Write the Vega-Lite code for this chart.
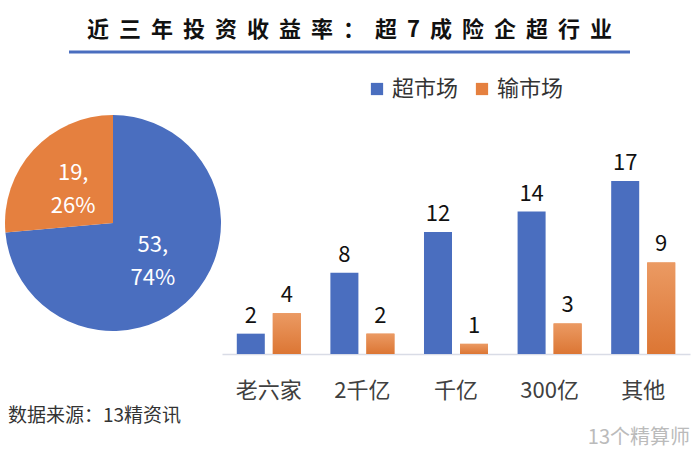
{
  "$schema": "https://vega.github.io/schema/vega-lite/v6.json",
  "padding": {"left": 5, "top": 18, "right": 5, "bottom": 5},
  "background": "white",
  "vconcat": [
    {
      "hconcat": [
        {
          "width": 56,
          "height": 1,
          "data": {"values": []},
          "mark": "point"
        },
        {
          "width": 561,
          "height": 1,
          "title": {
            "text": "近 \u00a0三 \u00a0年 \u00a0投 \u00a0资 \u00a0收 \u00a0益 \u00a0率 \u00a0： \u00a0超 \u00a07 \u00a0成 \u00a0险 \u00a0企 \u00a0超 \u00a0行 \u00a0业",
            "fontSize": 22,
            "fontWeight": "bold",
            "color": "#111111",
            "offset": 9
          },
          "data": {"values": [{"基线": 0}]},
          "mark": {"type": "rule", "color": "#4A6EBF", "strokeWidth": 3},
          "encoding": {"y": {"field": "基线", "type": "quantitative", "scale": {"domain": [0, 1]}, "axis": null}}
        }
      ],
      "spacing": 6
    },
    {
      "hconcat": [
        {
          "width": 216,
          "height": 216,
          "title": {
            "text": "数据来源：13精资讯",
            "orient": "bottom",
            "anchor": "start",
            "offset": 76,
            "dx": 3,
            "fontSize": 19,
            "fontWeight": "normal",
            "color": "#333333"
          },
          "data": {
            "values": [
              {"类别": "超市场", "数量": 53, "标签": "53,\n74%"},
              {"类别": "输市场", "数量": 19, "标签": "19,\n26%"}
            ]
          },
          "encoding": {
            "theta": {"field": "数量", "type": "quantitative", "stack": true},
            "order": {"field": "类别", "sort": "ascending"},
            "color": {
              "field": "类别",
              "type": "nominal",
              "scale": {"domain": ["超市场", "输市场"], "range": ["#4A6EBF", "#E5803F"]},
              "legend": null
            }
          },
          "layer": [
            {"mark": {"type": "arc", "outerRadius": 108}},
            {
              "mark": {"type": "text", "radius": 54, "dy": -14, "fontSize": 22, "color": "white", "lineBreak": "\n", "lineHeight": 33},
              "encoding": {"text": {"field": "标签"}, "color": {"value": "white"}}
            }
          ]
        },
        {
          "width": 468,
          "height": 239,
          "title": {
            "text": "13个精算师",
            "orient": "bottom",
            "anchor": "end",
            "offset": 27,
            "fontSize": 20,
            "fontWeight": "normal",
            "color": "#BBBBBB"
          },
          "data": {
            "values": [
              {"类别": "老六家", "市场": "超市场", "数量": 2},
              {"类别": "老六家", "市场": "输市场", "数量": 4},
              {"类别": "2千亿", "市场": "超市场", "数量": 8},
              {"类别": "2千亿", "市场": "输市场", "数量": 2},
              {"类别": "千亿", "市场": "超市场", "数量": 12},
              {"类别": "千亿", "市场": "输市场", "数量": 1},
              {"类别": "300亿", "市场": "超市场", "数量": 14},
              {"类别": "300亿", "市场": "输市场", "数量": 3},
              {"类别": "其他", "市场": "超市场", "数量": 17},
              {"类别": "其他", "市场": "输市场", "数量": 9}
            ]
          },
          "encoding": {
            "x": {
              "field": "类别",
              "type": "nominal",
              "sort": null,
              "scale": {"paddingInner": 0.316, "paddingOuter": 0.158},
              "axis": {
                "title": null,
                "labelAngle": 0,
                "ticks": false,
                "domainColor": "#D9DCE6",
                "domainWidth": 1.5,
                "labelFontSize": 22,
                "labelColor": "#404040",
                "labelPadding": 26
              }
            },
            "xOffset": {
              "field": "市场",
              "type": "nominal",
              "scale": {"domain": ["超市场", "输市场"], "paddingInner": 0.222, "paddingOuter": 0}
            },
            "y": {
              "field": "数量",
              "type": "quantitative",
              "scale": {"domain": [0, 23.5]},
              "axis": null
            }
          },
          "layer": [
            {
              "mark": {"type": "bar"},
              "encoding": {
                "color": {
                  "field": "市场",
                  "type": "nominal",
                  "scale": {"domain": ["超市场", "输市场"], "range": ["#4A6EBF", "#E5803F"]},
                  "legend": {
                    "title": null,
                    "orient": "none",
                    "legendX": 144,
                    "legendY": -37,
                    "direction": "horizontal",
                    "symbolType": "square",
                    "symbolSize": 150,
                    "symbolStrokeWidth": 0,
                    "labelFontSize": 22,
                    "labelColor": "#333333",
                    "columnPadding": 12,
                    "labelOffset": 4
                  }
                }
              }
            },
            {
              "transform": [{"filter": "datum['市场'] === '输市场'"}],
              "mark": {
                "type": "bar",
                "fill": {
                  "gradient": "linear",
                  "x1": 0, "y1": 0, "x2": 0, "y2": 1,
                  "stops": [
                    {"offset": 0, "color": "#EB9A63"},
                    {"offset": 1, "color": "#DC7634"}
                  ]
                }
              }
            },
            {
              "mark": {"type": "text", "baseline": "bottom", "dy": -6, "fontSize": 22, "color": "#111111"},
              "encoding": {"text": {"field": "数量", "type": "quantitative"}}
            }
          ]
        }
      ],
      "spacing": 1,
      "resolve": {"legend": {"color": "independent"}}
    }
  ],
  "spacing": 24,
  "resolve": {"legend": {"color": "independent"}},
  "config": {
    "view": {"stroke": null},
    "font": "Noto Sans CJK SC",
    "title": {"font": "Noto Sans CJK SC"},
    "axis": {"labelFont": "Noto Sans CJK SC"},
    "legend": {"labelFont": "Noto Sans CJK SC"},
    "text": {"font": "Noto Sans CJK SC"}
  }
}
